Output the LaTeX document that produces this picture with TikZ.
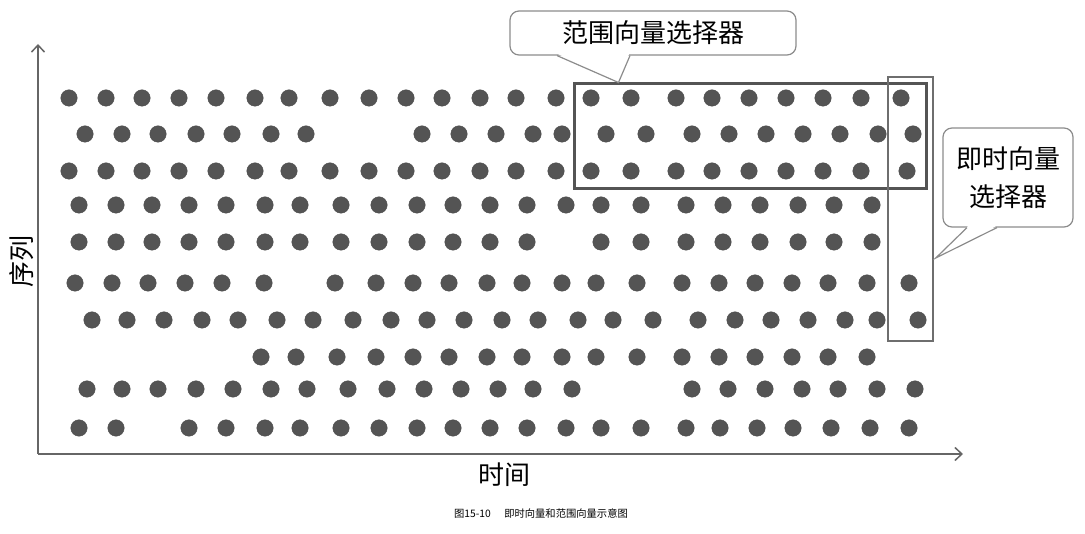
\documentclass[tikz,border=0pt]{standalone}
\usepackage{fontspec}
\newfontfamily\cjk{Noto Sans CJK SC}
\usepackage{tikz}
\usetikzlibrary{positioning}
\usetikzlibrary{arrows.meta}
\usetikzlibrary{calc}
\definecolor{dotgray}{rgb}{0.33,0.33,0.33}
\definecolor{boxgray}{rgb}{0.33,0.33,0.33}
\definecolor{callgray}{rgb}{0.55,0.55,0.55}
\definecolor{axisgray}{rgb}{0.4,0.4,0.4}

\begin{document}
\begin{tikzpicture}[
            x = 1pt, y = -1pt, % pixel grid, y pointing down
            > = {Straight Barb[length=7pt, width=13pt]}, % arrow head style
            semithick % line style
        ]

        \tikzstyle{dot}=[
            circle,
            fill = dotgray,
            draw = black!70,
            thin,
            inner sep = 0pt,
            minimum size = 16.5pt
        ]
        \tikzstyle{selbox}=[
            draw = boxgray,
            line width = 3pt,
            inner sep = 0pt
        ]
        \tikzstyle{callout}=[
            draw = callgray,
            line width = 1.2pt,
            rounded corners = 9pt,
            fill = white,
            inner sep = 0pt,
            align = center,
            font = {\cjk\fontsize{26}{38}\selectfont}
        ]

        \useasboundingbox (0,0) rectangle (1085,534);

        % axes
        \coordinate (O) at (38,454);
        \coordinate (TE) at (963,454);
        \coordinate (SE) at (38,44);
        \draw[->, axisgray, line width = 1.5pt] (O) -- (TE);
        \draw[->, axisgray, line width = 1.5pt] (O) -- (SE);

        \node (TL) at (504,475) [font = {\cjk\fontsize{26}{30}\selectfont}] {时间};
        \node (SL) at (22,262) [rotate = 90, font = {\cjk\fontsize{26}{30}\selectfont}] {序列};

        % samples, one row per series
        \def\rowA{69,106,142,179,216,255,289,330,369,406,442,480,516,556,591,631,676,712,749,786,823,861,901}
        \def\rowB{85,122,158,196,232,271,306,422,459,496,533,562,606,646,692,729,766,803,840,878,913}
        \def\rowC{69,106,142,179,216,255,289,330,369,406,442,480,516,556,591,631,676,712,749,786,823,861,907}
        \def\rowD{79,116,152,189,226,265,300,341,379,417,453,490,527,566,601,641,686,723,760,798,834,872}
        \def\rowE{79,116,152,189,226,265,300,341,379,417,453,490,527,601,641,686,723,760,798,834,872}
        \def\rowF{75,112,148,185,222,264,335,376,413,449,487,522,562,596,637,682,719,755,792,828,867,909}
        \def\rowG{92,127,164,202,238,277,313,353,391,427,464,502,538,578,613,653,698,735,771,808,845,877,918}
        \def\rowH{261,296,337,376,413,449,487,522,562,596,637,682,719,755,792,828,867}
        \def\rowI{87,122,158,196,233,271,307,348,387,424,461,498,533,572,692,728,765,802,838,877,915}
        \def\rowJ{79,116,189,226,265,300,341,379,417,453,490,527,566,601,641,686,720,757,793,831,870,909}
        \foreach \yy/\xs [count=\r] in {98/\rowA,134/\rowB,171/\rowC,205/\rowD,242/\rowE,283/\rowF,320/\rowG,357/\rowH,389/\rowI,428/\rowJ} {
            \edef\xlist{\xs}
            \foreach \xx [count=\c] in \xlist
                \node[dot] (D\r-\c) at (\xx,\yy) {};
        }

        % selectors
        \node[selbox, minimum width = 352pt, minimum height = 105pt] (R) at (750,136.5) {};
        \node[selbox, draw = boxgray!85, line width = 2.5pt, minimum width = 45pt, minimum height = 264pt] (I) at (910.5,209) {};

        % range callout
        \node[callout, minimum width = 286pt, minimum height = 44pt] (RC) at (653,33) {范围向量选择器};
        \coordinate (RC1) at ($(RC.south)+(-96,0)$);
        \coordinate (RC2) at ($(RC.south)+(-23,0)$);
        \coordinate (RCT) at ($(R.north west)+(46,0)$);
        \fill[white] ($(RC1)+(1,-1.5)$) -- (RCT) -- ($(RC2)+(-1,-1.5)$) -- cycle;
        \draw[callgray, line width = 1.2pt] (RC1) -- (RCT) -- (RC2);

        % instant callout
        \node[callout, minimum width = 130pt, minimum height = 99pt] (IC) at (1008,177.5) {即时向量\\选择器};
        \coordinate (IC1) at ($(IC.south)+(-41,0)$);
        \coordinate (IC2) at ($(IC.south)+(-11,0)$);
        \coordinate (ICT) at ($(I.east)+(1.5,49)$);
        \fill[white] ($(IC1)+(1,-1.5)$) -- (ICT) -- ($(IC2)+(-1,-1.5)$) -- cycle;
        \draw[callgray, line width = 1.2pt] (IC1) -- (ICT) -- (IC2);

        % caption
        \node (CAP) at (541,514) [font = {\cjk\fontsize{10.3}{12}\selectfont}] {图15-10\hspace{1.3em}即时向量和范围向量示意图};

  \end{tikzpicture}
\end{document}
